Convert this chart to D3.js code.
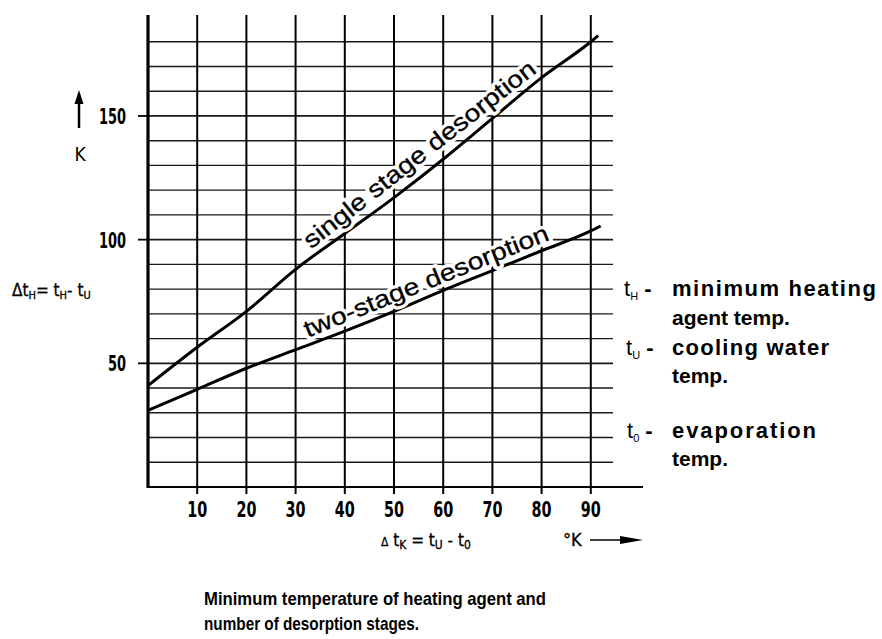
<!DOCTYPE html>
<html>
<head>
<meta charset="utf-8">
<script src="https://cdn.jsdelivr.net/npm/d3@7"></script>
<style>
  html, body { margin: 0; padding: 0; background: #fff; }
  svg { display: block; }
  .cond { font-family: "DejaVu Sans Condensed", "DejaVu Sans", sans-serif; }
  .sans { font-family: "Liberation Sans", Arial, Helvetica, sans-serif; }
</style>
</head>
<body>
<svg id="chart" width="882" height="639"></svg>
<script>
// ---- data ----
const xTicks = [10, 20, 30, 40, 50, 60, 70, 80, 90];
const yLabelTicks = [50, 100, 150];
const yGrid = [10, 20, 30, 40, 50, 60, 70, 80, 90, 100, 110, 120, 130, 140, 150, 160, 170, 180];
const singleX = [0, 10, 20, 30, 40, 50, 60, 70, 80, 90, 91.5];
const singleY = [41, 56.5, 71, 88, 102.5, 117, 132.5, 149, 165.5, 180, 182.5];
const twoX = [0, 10, 20, 30, 40, 50, 60, 70, 80, 90, 92];
const twoY = [31, 39.5, 48, 55.5, 63, 71, 79.5, 87.5, 95.5, 103.5, 105.5];
const seriesNames = ["single stage desorption", "two-stage desorption"];
const captionLines = ["Minimum temperature of heating agent and", "number of desorption stages."];

// ---- scales ----
const svg = d3.select("#chart");
const x = d3.scaleLinear().domain([0, 100]).range([148, 640]);
const y = d3.scaleLinear().domain([0, 190]).range([487, 17]);

const gridRight = 613;

// horizontal grid
svg.append("g").selectAll("line").data(yGrid).join("line")
  .attr("x1", x(0)).attr("x2", gridRight)
  .attr("y1", d => y(d)).attr("y2", d => y(d))
  .attr("stroke", "#1a1a1a").attr("stroke-width", d => d % 50 === 0 ? 1.8 : 1.4);

// vertical grid (with little ticks below axis)
svg.append("g").selectAll("line").data(xTicks).join("line")
  .attr("x1", d => x(d)).attr("x2", d => x(d))
  .attr("y1", 15).attr("y2", y(0) + 7)
  .attr("stroke", "#000").attr("stroke-width", 2);

// y tick marks
svg.append("g").selectAll("line").data(yLabelTicks).join("line")
  .attr("x1", x(0) - 10).attr("x2", x(0))
  .attr("y1", d => y(d)).attr("y2", d => y(d))
  .attr("stroke", "#000").attr("stroke-width", 1.8);

// axes
svg.append("line").attr("x1", x(0)).attr("x2", x(0)).attr("y1", 15).attr("y2", y(0) + 1)
  .attr("stroke", "#000").attr("stroke-width", 3.2);
svg.append("line").attr("x1", x(0) - 1).attr("x2", 643).attr("y1", y(0)).attr("y2", y(0))
  .attr("stroke", "#000").attr("stroke-width", 2.2);

// curves
const line = d3.line().x(d => x(d[0])).y(d => y(d[1])).curve(d3.curveMonotoneX);
const series = [d3.zip(singleX, singleY), d3.zip(twoX, twoY)];
svg.append("g").selectAll("path").data(series).join("path")
  .attr("d", line).attr("fill", "none").attr("stroke", "#000").attr("stroke-width", 3);

// series labels along lines
function lineLabel(xs, ys, x0, x1, text, offset, len, fs) {
  const p = (xx) => {
    const v = d3.scaleLinear().domain(xs).range(ys)(xx);
    return [x(xx), y(v)];
  };
  const a = p(x0), b = p(x1);
  const ang = Math.atan2(b[1] - a[1], b[0] - a[0]) * 180 / Math.PI;
  const g = svg.append("g").attr("transform", `translate(${a[0]},${a[1]}) rotate(${ang}) translate(0,${-offset})`);
  g.append("text").attr("class", "sans").attr("font-size", fs)
    .attr("textLength", len).attr("lengthAdjust", "spacingAndGlyphs")
    .attr("stroke", "#fff").attr("stroke-width", 7).attr("paint-order", "stroke")
    .attr("stroke-linejoin", "round").attr("fill", "#fff")
    .text(text);
  g.append("text").attr("class", "sans").attr("font-size", fs)
    .attr("textLength", len).attr("lengthAdjust", "spacingAndGlyphs")
    .attr("fill", "#000").attr("stroke", "#000").attr("stroke-width", 0.3).text(text);
}
lineLabel(singleX, singleY, 34, 80, seriesNames[0], 7, 288, 24);
lineLabel(twoX, twoY, 33, 80, seriesNames[1], 7, 262, 24);

// x tick labels
svg.append("g").selectAll("text").data(xTicks).join("text")
  .attr("class", "cond").attr("font-size", 22).attr("font-weight", "bold")
  .attr("x", d => x(d)).attr("y", 517).attr("text-anchor", "middle")
  .attr("textLength", 20).attr("lengthAdjust", "spacingAndGlyphs")
  .text(d => d);

// y tick labels
svg.append("g").selectAll("text").data(yLabelTicks).join("text")
  .attr("class", "cond").attr("font-size", 22).attr("font-weight", "bold")
  .attr("x", 126).attr("y", d => y(d) + 8).attr("text-anchor", "end")
  .attr("textLength", d => d >= 100 ? 27 : 18).attr("lengthAdjust", "spacingAndGlyphs")
  .text(d => d);

// y axis unit: arrow + K
svg.append("line").attr("x1", 79).attr("x2", 79).attr("y1", 128).attr("y2", 100)
  .attr("stroke", "#000").attr("stroke-width", 2.5);
svg.append("path").attr("d", "M79,90 L74.5,104 L83.5,104 Z").attr("fill", "#000");
svg.append("text").attr("class", "cond").attr("font-size", 19)
  .attr("x", 80).attr("y", 161).attr("text-anchor", "middle").text("K");

// y axis formula
const yl = svg.append("text").attr("class", "cond").attr("font-size", 17)
  .attr("stroke", "#000").attr("stroke-width", 0.3)
  .attr("x", 12).attr("y", 296);
yl.append("tspan").text("Δt");
yl.append("tspan").attr("font-size", 11).attr("dy", 3).text("H");
yl.append("tspan").attr("dy", -3).text("= t");
yl.append("tspan").attr("font-size", 11).attr("dy", 3).text("H");
yl.append("tspan").attr("dy", -3).text("- t");
yl.append("tspan").attr("font-size", 11).attr("dy", 3).text("U");

// x axis formula
const xl = svg.append("text").attr("class", "cond").attr("font-size", 17)
  .attr("stroke", "#000").attr("stroke-width", 0.3)
  .attr("x", 381).attr("y", 546);
xl.append("tspan").attr("font-size", 12).text("Δ");
xl.append("tspan").text(" t");
xl.append("tspan").attr("font-size", 12).attr("dy", 3).text("K");
xl.append("tspan").attr("dy", -3).text("  =   t");
xl.append("tspan").attr("font-size", 12).attr("dy", 3).text("U");
xl.append("tspan").attr("dy", -3).text("  -  t");
xl.append("tspan").attr("font-size", 12).attr("dy", 3).text("0");

// °K arrow
svg.append("text").attr("class", "cond").attr("font-size", 18)
  .attr("stroke", "#000").attr("stroke-width", 0.3)
  .attr("x", 563).attr("y", 546).text("°K");
svg.append("line").attr("x1", 590).attr("x2", 630).attr("y1", 540).attr("y2", 540)
  .attr("stroke", "#000").attr("stroke-width", 1.6);
svg.append("path").attr("d", "M643,540 L620,536 L620,544 Z").attr("fill", "#000");

// right annotations
const annX = 672;
function ann(xp, yp, sub, rest, restLen) {
  const t = svg.append("text").attr("class", "sans").attr("font-size", 22)
    .attr("x", xp).attr("y", yp);
  t.append("tspan").text("t");
  t.append("tspan").attr("font-size", 11).attr("dy", 4).text(sub);
  t.append("tspan").attr("dy", -4).attr("font-weight", "bold").text(" - ");
  svg.append("text").attr("class", "sans").attr("font-size", 22).attr("font-weight", "bold")
    .attr("x", annX).attr("y", yp).attr("textLength", restLen).attr("lengthAdjust", "spacing").text(rest);
}
function ann2(yp, txt) {
  svg.append("text").attr("class", "sans").attr("font-size", 21).attr("font-weight", "bold")
    .attr("x", annX).attr("y", yp).text(txt);
}
ann(624, 296, "H", "minimum heating", 204);
ann2(325, "agent temp.");
ann(626, 355, "U", "cooling water", 157);
ann2(383, "temp.");
ann(627, 438, "0", "evaporation", 144);
ann2(466, "temp.");

// caption
svg.append("g").selectAll("text").data(captionLines).join("text")
  .attr("class", "sans").attr("font-size", 19).attr("font-weight", "bold")
  .attr("x", 204).attr("y", (d, i) => 605 + i * 25)
  .attr("textLength", (d, i) => i === 0 ? 342 : 215).attr("lengthAdjust", "spacingAndGlyphs")
  .text(d => d);
</script>
</body>
</html>
